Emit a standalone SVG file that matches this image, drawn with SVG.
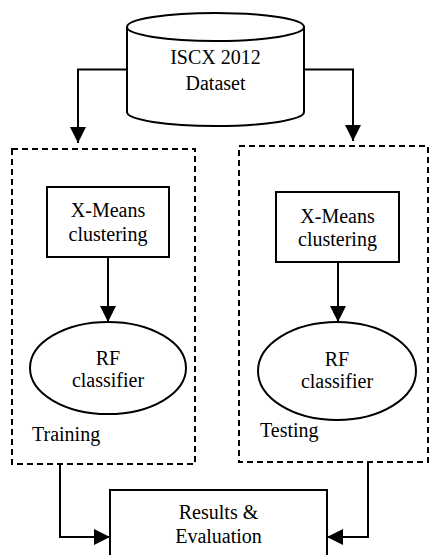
<svg xmlns="http://www.w3.org/2000/svg" width="430" height="555" viewBox="0 0 430 555">
<style>
.s{fill:#fff;stroke:#000;stroke-width:2}
.d{fill:none;stroke:#000;stroke-width:2;stroke-dasharray:6 4}
.c{fill:none;stroke:#000;stroke-width:2}
text{font-family:"Liberation Serif","Times New Roman",serif;font-size:20px;fill:#000}
.m{text-anchor:middle}
</style>
<defs>
<marker id="ah" markerUnits="userSpaceOnUse" markerWidth="16" markerHeight="16" viewBox="0 0 14 14" refX="14" refY="7" orient="auto">
<path d="M0,0 L14,7 L0,14 Z" fill="#000"/>
</marker>
</defs>
<rect width="430" height="555" fill="#fff"/>
<g id="training-group">
<rect class="d" x="12" y="149" width="183" height="315"/>
<text x="32" y="441">Training</text>
</g>
<g id="testing-group">
<rect class="d" x="239" y="146" width="189" height="316"/>
<text x="260" y="437">Testing</text>
</g>
<g id="dataset">
<path class="s" d="M127,27 L127,112 A88.5,14 0 0 0 304,112 L304,27"/>
<ellipse class="s" cx="215.5" cy="27" rx="88.5" ry="14"/>
<text class="m" x="215.5" y="64">ISCX 2012</text>
<text class="m" x="215.5" y="90">Dataset</text>
</g>
<g id="xmeans-train">
<rect class="s" x="47" y="187" width="122" height="70"/>
<text class="m" x="108" y="217">X-Means</text>
<text class="m" x="108" y="241">clustering</text>
</g>
<g id="rf-train">
<ellipse class="s" cx="108" cy="368" rx="78" ry="46"/>
<text class="m" x="108" y="365">RF</text>
<text class="m" x="108" y="387">classifier</text>
</g>
<g id="xmeans-test">
<rect class="s" x="276" y="192" width="123" height="70"/>
<text class="m" x="337.5" y="223">X-Means</text>
<text class="m" x="337.5" y="246">clustering</text>
</g>
<g id="rf-test">
<ellipse class="s" cx="337" cy="371" rx="79" ry="49"/>
<text class="m" x="337" y="366">RF</text>
<text class="m" x="337" y="388">classifier</text>
</g>
<g id="results">
<rect class="s" x="110" y="490" width="217" height="80"/>
<text class="m" x="218.5" y="519">Results &amp;</text>
<text class="m" x="218.5" y="543">Evaluation</text>
</g>
<g id="connectors">
<path class="c" d="M127,69.5 L78,69.5 L78,143" marker-end="url(#ah)"/>
<path class="c" d="M304,69.5 L353,69.5 L353,141" marker-end="url(#ah)"/>
<path class="c" d="M108,257 L108,322" marker-end="url(#ah)"/>
<path class="c" d="M338,262 L338,322" marker-end="url(#ah)"/>
<path class="c" d="M60,464 L60,537 L110,537" marker-end="url(#ah)"/>
<path class="c" d="M368,462 L368,537 L327,537" marker-end="url(#ah)"/>
</g>
</svg>
